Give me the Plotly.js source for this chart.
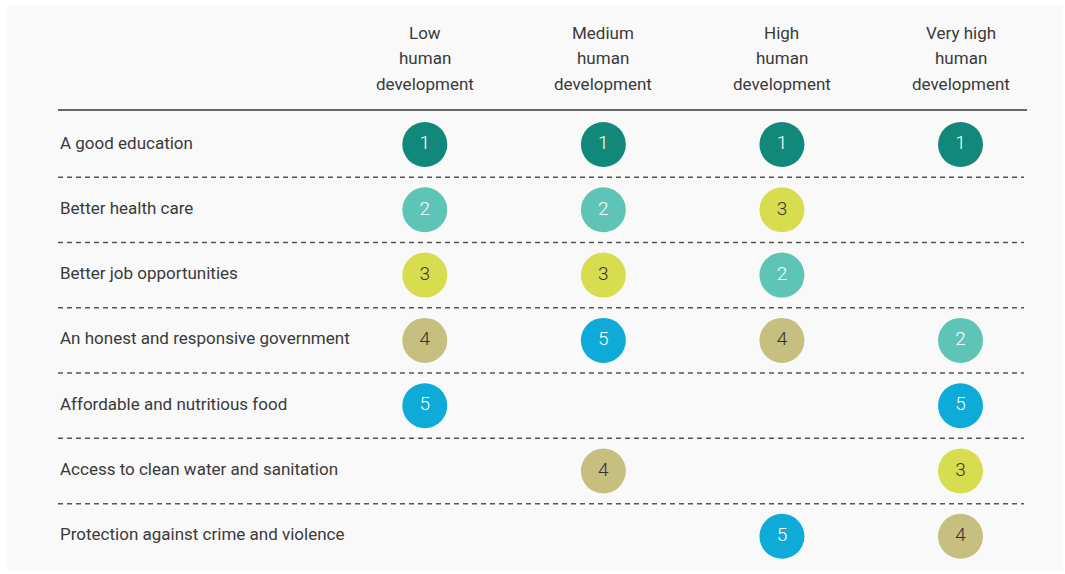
<!DOCTYPE html>
<html>
<head>
<meta charset="utf-8">
<script src="https://cdn.plot.ly/plotly-3.0.1.min.js"></script>
<style>html,body{margin:0;padding:0;background:#fff;}#chart{width:1065px;height:574px;}</style>
</head>
<body>
<div id="chart"></div>
<script>
// ---- data ----
const rowLabels = [
  "A good education",
  "Better health care",
  "Better job opportunities",
  "An honest and responsive government",
  "Affordable and nutritious food",
  "Access to clean water and sanitation",
  "Protection against crime and violence"
];
const groupHeaders = [
  ["Low", "human", "development"],
  ["Medium", "human", "development"],
  ["High", "human", "development"],
  ["Very high", "human", "development"]
];
// rank of each priority within each group (null = not in top 5)
const rankLow      = [1, 2, 3, 4, 5, null, null];
const rankMedium   = [1, 2, 3, 5, null, 4, null];
const rankHigh     = [1, 3, 2, 4, null, null, 5];
const rankVeryHigh = [1, null, null, 2, 5, 3, 4];
const ranksByGroup = [rankLow, rankMedium, rankHigh, rankVeryHigh];

const rankColors = {1: "#11887a", 2: "#5ec4b6", 3: "#d8dc4f", 4: "#c6bf80", 5: "#0eaad8"};
const rankTextColors = {1: "#ffffff", 2: "#ffffff", 3: "#333333", 4: "#333333", 5: "#ffffff"};

const FONT = "Roboto, 'Liberation Sans', sans-serif";

// ---- build traces ----
const xs = [], ys = [], txt = [], cols = [], tcols = [];
ranksByGroup.forEach((ranks, g) => {
  ranks.forEach((r, i) => {
    if (r === null) return;
    xs.push(g); ys.push(i); txt.push(String(r));
    cols.push(rankColors[r]); tcols.push(rankTextColors[r]);
  });
});

const trace = {
  type: "scatter",
  mode: "markers+text",
  x: xs, y: ys, text: txt,
  textposition: "middle center",
  textfont: {family: FONT, size: 19, weight: 300, color: tcols},
  marker: {size: 45, color: cols, line: {width: 0}},
  hoverinfo: "skip",
  cliponaxis: false,
  showlegend: false
};

// ---- layout ----
const W = 1065, H = 574;
const shapes = [];
const annotations = [];

// panel background
shapes.push({type: "rect", xref: "paper", yref: "paper", layer: "below",
  x0: 7 / W, x1: 1063 / W, y0: 1 - 571 / H, y1: 1 - 5 / H,
  fillcolor: "#f9f9f9", line: {width: 0}});

// solid header rule
shapes.push({type: "line", xref: "paper", yref: "y",
  x0: 58 / W, x1: 1027 / W, y0: -0.53, y1: -0.53,
  line: {color: "#333333", width: 1.5}});

// dashed separators between rows
for (let i = 0; i < rowLabels.length - 1; i++) {
  shapes.push({type: "line", xref: "paper", yref: "y",
    x0: 58 / W, x1: 1024 / W, y0: i + 0.5, y1: i + 0.5,
    line: {color: "#555555", width: 1.5, dash: "5px,4px"}});
}

// row labels
rowLabels.forEach((lab, i) => {
  annotations.push({xref: "paper", yref: "y", x: 58 / W, y: i - 0.03,
    xanchor: "left", yanchor: "middle", showarrow: false, text: lab,
    font: {family: FONT, size: 17, color: "#3a3a3a"}});
});

// column headers (one annotation per line)
const headerLineY = [33, 58, 84];
groupHeaders.forEach((lines, g) => {
  lines.forEach((ln, k) => {
    annotations.push({xref: "x", yref: "paper", x: g, y: 1 - headerLineY[k] / H,
      xanchor: "center", yanchor: "middle", showarrow: false, text: ln,
      font: {family: FONT, size: 17, color: "#3a3a3a"}});
  });
});

const layout = {
  width: W, height: H,
  margin: {l: 0, r: 0, t: 0, b: 0, pad: 0},
  paper_bgcolor: "#ffffff",
  plot_bgcolor: "rgba(0,0,0,0)",
  xaxis: {range: [-2.3789, 3.5852], visible: false, fixedrange: true},
  yaxis: {range: [6.5773, -2.2129], visible: false, fixedrange: true},
  shapes: shapes,
  annotations: annotations,
  showlegend: false
};

Plotly.newPlot("chart", [trace], layout, {displayModeBar: false, staticPlot: true});
</script>
</body>
</html>
